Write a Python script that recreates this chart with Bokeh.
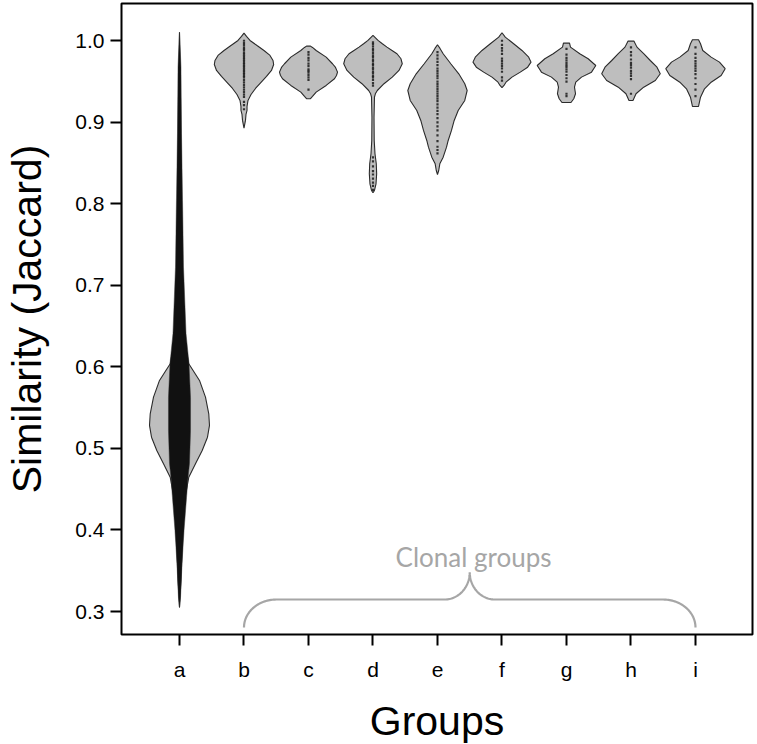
import numpy as np
from bokeh.plotting import figure
from bokeh.models import FixedTicker, Label, Range1d, PrintfTickFormatter
from bokeh.embed import file_html
from bokeh.resources import INLINE

# ---------------- data ----------------
groups = ["a", "b", "c", "d", "e", "f", "g", "h", "i"]
y_ticks = [0.3, 0.4, 0.5, 0.6, 0.7, 0.8, 0.9, 1.0]

# violin outlines: similarity level (y) and half-width of the density (x units)
a_y  = [1.0105, 0.9268, 0.8041, 0.6815, 0.6324, 0.6038, 0.5834, 0.5629, 0.5425, 0.5282,
        0.5138, 0.4975, 0.4812, 0.4647, 0.4362, 0.3871, 0.3381, 0.3050]
a_hw = [0.0, 0.016, 0.031, 0.054, 0.078, 0.144, 0.310, 0.403, 0.454, 0.465,
        0.434, 0.352, 0.248, 0.144, 0.078, 0.047, 0.023, 0.0]
b_y  = [1.0093, 1.0053, 1.0004, 0.9942, 0.9881, 0.9820, 0.9758, 0.9709, 0.9636, 0.9562,
        0.9489, 0.9415, 0.9341, 0.9268, 0.9194, 0.9145, 0.9096, 0.9023, 0.8928]
b_hw = [0.0, 0.039, 0.093, 0.202, 0.310, 0.403, 0.450, 0.460, 0.426, 0.349,
        0.264, 0.178, 0.109, 0.062, 0.047, 0.047, 0.031, 0.023, 0.0]
c_y  = [0.9934, 0.9918, 0.9881, 0.9799, 0.9718, 0.9673, 0.9615, 0.9574, 0.9534, 0.9452,
        0.9370, 0.9317, 0.9289]
c_hw = [0.031, 0.062, 0.119, 0.274, 0.372, 0.419, 0.450, 0.434, 0.403, 0.274,
        0.119, 0.062, 0.031]
d_y  = [1.0065, 1.0041, 1.0004, 0.9967, 0.9922, 0.9881, 0.9841, 0.9779, 0.9718, 0.9636,
        0.9554, 0.9473, 0.9390, 0.9354, 0.9308, 0.9063, 0.8777, 0.8614, 0.8491, 0.8369,
        0.8246, 0.8164, 0.8136]
d_hw = [0.0, 0.031, 0.078, 0.140, 0.217, 0.295, 0.372, 0.434, 0.454, 0.403,
        0.299, 0.171, 0.067, 0.039, 0.023, 0.016, 0.019, 0.031, 0.051, 0.057,
        0.047, 0.023, 0.0]
e_y  = [0.9951, 0.9906, 0.9841, 0.9718, 0.9595, 0.9473, 0.9390, 0.9268, 0.9145, 0.9023,
        0.8900, 0.8777, 0.8695, 0.8572, 0.8491, 0.8409, 0.8360]
e_hw = [0.0, 0.039, 0.088, 0.206, 0.330, 0.423, 0.460, 0.423, 0.321, 0.259,
        0.217, 0.166, 0.140, 0.088, 0.036, 0.019, 0.0]
f_y  = [1.0098, 1.0044, 0.9963, 0.9881, 0.9799, 0.9738, 0.9676, 0.9615, 0.9554, 0.9492,
        0.9452, 0.9424]
f_hw = [0.0, 0.051, 0.181, 0.310, 0.414, 0.450, 0.398, 0.284, 0.155, 0.062, 0.031, 0.0]
g_y  = [0.9971, 0.9922, 0.9841, 0.9779, 0.9697, 0.9615, 0.9554, 0.9492, 0.9431, 0.9350,
        0.9289, 0.9243]
g_hw = [0.047, 0.062, 0.206, 0.336, 0.454, 0.388, 0.233, 0.144, 0.124, 0.140, 0.113, 0.070]
h_y  = [0.9995, 0.9922, 0.9841, 0.9758, 0.9676, 0.9595, 0.9513, 0.9431, 0.9350, 0.9268]
h_hw = [0.047, 0.093, 0.197, 0.299, 0.403, 0.454, 0.377, 0.197, 0.078, 0.031]
i_y  = [1.0012, 0.9963, 0.9881, 0.9799, 0.9738, 0.9657, 0.9574, 0.9492, 0.9411, 0.9308,
        0.9194]
i_hw = [0.047, 0.078, 0.113, 0.243, 0.372, 0.460, 0.398, 0.243, 0.140, 0.078, 0.047]

# dense cloud of individual pairwise values for group a (envelope of the dots)
a_cloud_y  = [1.0105, 0.9676, 0.8863, 0.8041, 0.7223, 0.6410, 0.6042, 0.5625, 0.5220,
              0.4815, 0.4644, 0.4399, 0.3994, 0.3589, 0.3172, 0.3050]
a_cloud_hw = [0.0, 0.023, 0.031, 0.047, 0.062, 0.101, 0.147, 0.171, 0.171,
              0.155, 0.132, 0.109, 0.070, 0.039, 0.016, 0.0]

# individual values of the clonal groups
b_pts = [1.000, 0.997, 0.995, 0.992, 0.990, 0.988, 0.985, 0.983, 0.981, 0.979, 0.977, 0.975,
         0.973, 0.971, 0.969, 0.967, 0.965, 0.963, 0.961, 0.959, 0.957, 0.955, 0.952, 0.949,
         0.946, 0.943, 0.940, 0.937, 0.934, 0.931, 0.925, 0.921, 0.916]
c_pts = [0.986, 0.983, 0.979, 0.976, 0.972, 0.969, 0.965, 0.963, 0.961, 0.958, 0.955, 0.952, 0.940]
d_pts = [0.998, 0.996, 0.993, 0.990, 0.988, 0.985, 0.982, 0.980, 0.977, 0.975, 0.972, 0.970,
         0.967, 0.965, 0.962, 0.960, 0.957, 0.955, 0.952, 0.948, 0.945,
         0.857, 0.852, 0.846, 0.840, 0.836, 0.831, 0.826, 0.822, 0.817]
e_pts = [0.986, 0.982, 0.978, 0.974, 0.970, 0.966, 0.963, 0.960, 0.957, 0.954, 0.950, 0.947,
         0.944, 0.941, 0.938, 0.935, 0.932, 0.929, 0.926, 0.922, 0.918, 0.914, 0.910, 0.905,
         0.900, 0.895, 0.890, 0.884, 0.877, 0.870, 0.866, 0.862]
f_pts = [1.000, 0.995, 0.991, 0.988, 0.984, 0.978, 0.975, 0.972, 0.969, 0.966, 0.962, 0.955, 0.951]
g_pts = [0.990, 0.983, 0.979, 0.976, 0.973, 0.970, 0.968, 0.965, 0.962, 0.958, 0.954, 0.950,
         0.935, 0.932]
h_pts = [0.992, 0.986, 0.982, 0.977, 0.973, 0.970, 0.967, 0.963, 0.960, 0.957, 0.953, 0.935]
i_pts = [0.992, 0.984, 0.979, 0.975, 0.972, 0.969, 0.966, 0.963, 0.959, 0.954, 0.947, 0.940, 0.932]

violin_y  = [a_y, b_y, c_y, d_y, e_y, f_y, g_y, h_y, i_y]
violin_hw = [a_hw, b_hw, c_hw, d_hw, e_hw, f_hw, g_hw, h_hw, i_hw]
points    = [None, b_pts, c_pts, d_pts, e_pts, f_pts, g_pts, h_pts, i_pts]

# annotation: brace spanning the clonal groups
brace_from, brace_to = "b", "i"
brace_end_y, brace_bar_y, brace_tip_y = 0.2804, 0.3147, 0.3482
brace_label = "Clonal groups"
brace_label_x, brace_label_y = 5.56, 0.3666

# ---------------- figure ----------------
pos = {g: k + 1 for k, g in enumerate(groups)}

p = figure(frame_width=631, frame_height=631,
           x_range=Range1d(0.1008, 9.884), y_range=Range1d(0.2718, 1.0457),
           output_backend="svg", toolbar_location=None,
           min_border_left=121, min_border_right=5, min_border_top=3, min_border_bottom=110)
p.background_fill_color = "white"
p.border_fill_color = "white"
p.xgrid.visible = False
p.ygrid.visible = False
p.outline_line_color = "black"
p.outline_line_width = 2

for k, g in enumerate(groups):
    cx = pos[g]
    y = np.array(violin_y[k]); hw = np.array(violin_hw[k])
    xs = np.concatenate([cx + hw, (cx - hw)[::-1]])
    ys = np.concatenate([y, y[::-1]])
    p.patch(xs, ys, fill_color="#bebebe", line_color="#2b2b2b", line_width=1.1)

# group a cloud
cy = np.array(a_cloud_y); chw = np.array(a_cloud_hw)
cxa = pos["a"]
p.patch(np.concatenate([cxa + chw, (cxa - chw)[::-1]]), np.concatenate([cy, cy[::-1]]),
        fill_color="#111111", line_color="#333333", line_width=0.8, line_alpha=0.6)

for k, g in enumerate(groups):
    if points[k] is None:
        continue
    p.scatter([pos[g]] * len(points[k]), points[k], marker="square", size=2.2,
              fill_color="#1a1a1a", line_color=None, alpha=0.85)

# brace
x0, x1 = pos[brace_from], pos[brace_to]
xm = (x0 + x1) / 2
rc, rt = 0.50, 0.39
t = np.linspace(0, np.pi / 2, 40)
lx1 = x0 + rc * (1 - np.cos(t)); ly1 = brace_end_y + (brace_bar_y - brace_end_y) * np.sin(t)
lx2 = (xm - rt) + rt * np.sin(t); ly2 = brace_tip_y - (brace_tip_y - brace_bar_y) * np.cos(t)
left_x = np.concatenate([lx1, lx2]); left_y = np.concatenate([ly1, ly2])
right_x = (2 * xm - left_x)[::-1]; right_y = left_y[::-1]
p.line(np.concatenate([left_x, right_x]), np.concatenate([left_y, right_y]),
       line_color="#a6a6a6", line_width=2.2)

p.add_layout(Label(x=brace_label_x, y=brace_label_y, text=brace_label, text_align="center",
                   text_baseline="alphabetic", text_color="#a6a6a6",
                   text_font="Lato", text_font_size="26px"))

# axes
p.xaxis.ticker = FixedTicker(ticks=[pos[g] for g in groups])
p.xaxis.major_label_overrides = {pos[g]: g for g in groups}
p.yaxis.ticker = FixedTicker(ticks=y_ticks)
p.yaxis.formatter = PrintfTickFormatter(format="%.1f")
for ax in (p.xaxis, p.yaxis):
    ax.axis_line_color = None
    ax.major_tick_in = 0
    ax.major_tick_out = 11
    ax.major_tick_line_width = 2
    ax.major_tick_line_color = "black"
    ax.minor_tick_line_color = None
    ax.major_label_text_font = "Liberation Sans"
    ax.major_label_text_font_size = "21px"
    ax.major_label_text_color = "black"
    ax.axis_label_text_font = "Liberation Sans"
    ax.axis_label_text_font_style = "normal"
    ax.axis_label_text_font_size = "41px"
    ax.axis_label_text_color = "black"
p.xaxis.major_label_standoff = 12
p.yaxis.major_label_standoff = 6
p.xaxis.axis_label = "Groups"
p.xaxis.axis_label_standoff = 14
p.yaxis.axis_label = "Similarity (Jaccard)"
p.yaxis.axis_label_standoff = 22

open("out.html", "w").write(file_html(p, INLINE))
